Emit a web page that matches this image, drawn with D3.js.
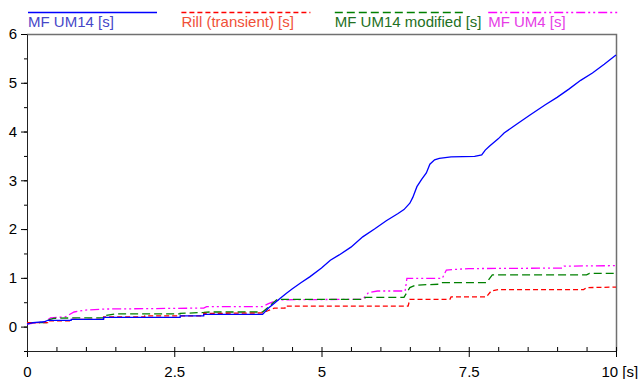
<!DOCTYPE html>
<html>
<head>
<meta charset="utf-8">
<script src="https://cdn.jsdelivr.net/npm/d3@7"></script>
<style>
  body { margin: 0; background: #fff; }
  svg text { font-family: "Liberation Sans", Arial, sans-serif; }
</style>
</head>
<body>
<div id="chart"></div>
<script>
// series names (legend)
const seriesNames = ['MF UM14 [s]', 'Rill (transient) [s]', 'MF UM14 modified [s]', 'MF UM4 [s]'];

// [time, value] pairs
const um14Data = [
  [0, 0.05], [0.1, 0.08], [0.3, 0.1], [0.35, 0.13], [0.75, 0.13], [0.75, 0.15], [1.3, 0.15], [1.3, 0.19],
  [2.6, 0.19], [2.6, 0.22], [3.0, 0.22], [3.0, 0.25], [4.0, 0.25],
  [4.1, 0.38], [4.2, 0.48], [4.3, 0.58], [4.4, 0.68], [4.5, 0.77], [4.65, 0.9], [4.8, 1.02], [5.0, 1.2],
  [5.15, 1.36], [5.3, 1.47], [5.5, 1.63], [5.7, 1.84], [5.9, 2.0], [6.1, 2.17], [6.3, 2.32], [6.4, 2.4],
  [6.5, 2.53], [6.55, 2.65], [6.62, 2.87], [6.7, 3.02], [6.78, 3.15], [6.84, 3.33], [6.92, 3.42], [7.0, 3.45],
  [7.2, 3.48], [7.6, 3.49], [7.72, 3.52], [7.78, 3.62], [7.85, 3.7], [8.0, 3.85], [8.1, 3.97], [8.3, 4.14],
  [8.54, 4.34], [8.8, 4.55], [9.0, 4.7], [9.2, 4.87], [9.4, 5.05], [9.6, 5.2], [9.8, 5.38], [10, 5.57]
];
const rillData = [
  [0, 0.08], [0.35, 0.08], [0.35, 0.12], [0.75, 0.12], [0.75, 0.15], [1.3, 0.15], [1.3, 0.2], [2.0, 0.2],
  [2.0, 0.22], [3.0, 0.22], [3.0, 0.27], [4.0, 0.28], [4.1, 0.33], [4.2, 0.38], [4.38, 0.38], [4.38, 0.42],
  [6.47, 0.42], [6.5, 0.56], [7.18, 0.56], [7.2, 0.61], [7.8, 0.61], [7.88, 0.73], [8.0, 0.76], [9.45, 0.76],
  [9.5, 0.8], [10, 0.81]
];
const modData = [
  [0, 0.08], [0.35, 0.08], [0.35, 0.13], [0.45, 0.17], [0.8, 0.18], [1.3, 0.18], [1.3, 0.22], [1.5, 0.26],
  [2.6, 0.26], [2.6, 0.27], [3.0, 0.29], [3.1, 0.3], [4.0, 0.3], [4.25, 0.56], [5.7, 0.56], [5.75, 0.6],
  [6.4, 0.6], [6.5, 0.8], [6.6, 0.85], [7.0, 0.87], [7.05, 0.9], [7.8, 0.9], [7.9, 1.06], [9.5, 1.06],
  [9.55, 1.09], [10, 1.09]
];
const um4Data = [
  [0, 0.05], [0.3, 0.1], [0.4, 0.18], [0.65, 0.2], [0.8, 0.3], [1.0, 0.34], [1.3, 0.36], [3.0, 0.38],
  [3.05, 0.41], [4.0, 0.41], [4.1, 0.47], [4.2, 0.52], [4.3, 0.55], [5.7, 0.56], [5.8, 0.7], [5.95, 0.73],
  [6.42, 0.73], [6.45, 0.99], [7.05, 0.99], [7.12, 1.16], [7.5, 1.19], [9.1, 1.2], [9.12, 1.24], [10, 1.25]
];

const xTickLabels = [0, 2.5, 5, 7.5, 10];
const yTickLabels = [0, 1, 2, 3, 4, 5, 6];

const allSeries = [um14Data, rillData, modData, um4Data];
const lineStyles = [
  {color: '#0000ff', text: '#4646c8', dash: null},
  {color: '#ff0000', text: '#f05038', dash: '5,3'},
  {color: '#008000', text: '#237023', dash: '8,4'},
  {color: '#ff00ff', text: '#e63ce6', dash: '9,3,2,3,2,3'}
];

const width = 639;
const height = 379;

const svg = d3.select('#chart')
  .append('svg')
  .attr('width', width)
  .attr('height', height);

const xScale = d3.scaleLinear()
  .domain([0, 10])
  .range([27, 616]);

const yScale = d3.scaleLinear()
  .domain([-0.5, 6])
  .range([351, 34]);

// frame (top + right in grey)
svg.append('path')
  .attr('d', `M${xScale(0)},${yScale(6) + 0.5}H${xScale(10) + 0.5}V${yScale(-0.5)}`)
  .attr('fill', 'none')
  .attr('stroke', '#707070')
  .attr('stroke-width', 1.5);

// minor ticks
svg.append('g')
  .attr('transform', `translate(0, ${yScale(-0.5)})`)
  .call(d3.axisTop(xScale).tickValues(d3.range(0, 10.01, 0.5)).tickSize(4).tickFormat(''))
  .call((g) => g.select('.domain').remove());

svg.append('g')
  .attr('transform', `translate(${xScale(0)}, 0)`)
  .call(d3.axisLeft(yScale).tickValues(d3.range(-0.5, 6.01, 0.5)).tickSize(3).tickFormat(''))
  .call((g) => g.select('.domain').remove());

// major axes
const xAxis = svg.append('g')
  .attr('transform', `translate(0, ${yScale(-0.5)})`)
  .call(d3.axisBottom(xScale)
    .tickValues(xTickLabels)
    .tickSize(6)
    .tickSizeOuter(0)
    .tickPadding(9)
    .tickFormat((d) => d === 10 ? '10 [s]' : String(d)));

xAxis.selectAll('text')
  .attr('font-size', 15)
  .attr('fill', '#000')
  .attr('font-family', '"Liberation Sans", Arial, sans-serif')
  .filter((d) => d === 10)
  .attr('text-anchor', 'start')
  .attr('dx', -15);

const yAxis = svg.append('g')
  .attr('transform', `translate(${xScale(0)}, 0)`)
  .call(d3.axisLeft(yScale)
    .tickValues(yTickLabels)
    .tickSize(6)
    .tickSizeOuter(0)
    .tickPadding(4)
    .tickFormat(d3.format('d')));

yAxis.selectAll('text')
  .attr('font-size', 15)
  .attr('fill', '#000')
  .attr('font-family', '"Liberation Sans", Arial, sans-serif');

svg.selectAll('.domain').attr('stroke', '#222');

// lines
const line = d3.line()
  .x((d) => xScale(d[0]))
  .y((d) => yScale(d[1]));

const plot = svg.append('g');

[3, 2, 1, 0].forEach((i) => {
  plot.append('path')
    .datum(allSeries[i])
    .attr('fill', 'none')
    .attr('stroke', lineStyles[i].color)
    .attr('stroke-width', 1.3)
    .attr('stroke-dasharray', lineStyles[i].dash)
    .attr('d', line);
});

// legend
const legend = svg.append('g');
seriesNames.forEach((name, i) => {
  const lx = 28 + i * 153.4;
  legend.append('line')
    .attr('x1', lx)
    .attr('x2', lx + 129)
    .attr('y1', 12.5)
    .attr('y2', 12.5)
    .attr('stroke', lineStyles[i].color)
    .attr('stroke-width', 1.5)
    .attr('stroke-dasharray', lineStyles[i].dash);

  legend.append('text')
    .attr('x', lx)
    .attr('y', 27)
    .attr('font-size', 15)
    .attr('fill', lineStyles[i].text)
    .text(name);
});
</script>
</body>
</html>
